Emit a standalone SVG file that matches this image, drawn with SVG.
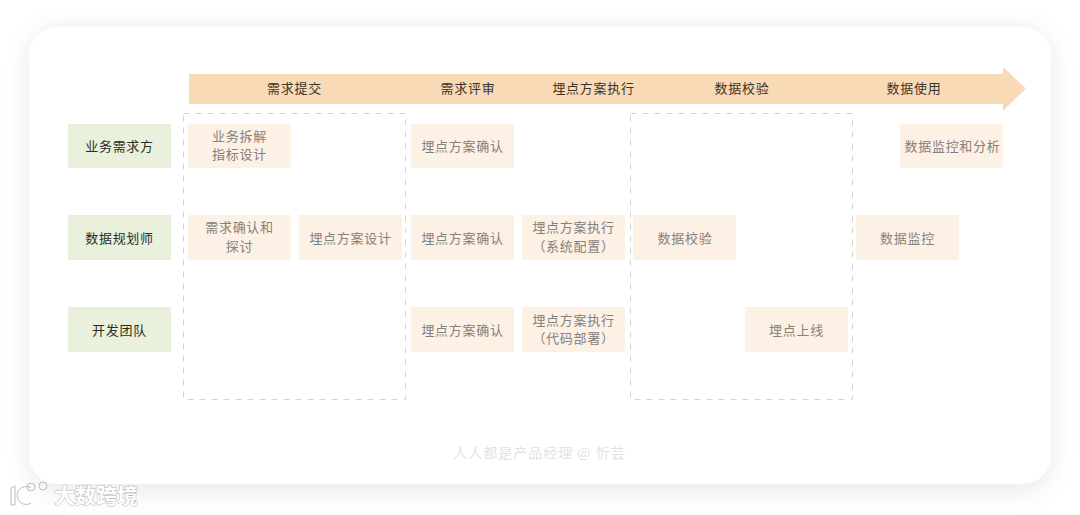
<svg xmlns="http://www.w3.org/2000/svg" width="1080" height="515" viewBox="0 0 1080 515">
<style>
text{font-family:"Noto Sans CJK SC","Noto Sans",sans-serif;text-anchor:middle;font-size:13px;letter-spacing:.7px}
.role rect{fill:#e9f1dc}.role text{fill:#2c2c24}
.stage{fill:#3d3429}
.task rect{fill:#fdf0e4}.task text{fill:#85817b}
.box{fill:none;stroke:#d4d4d6;stroke-width:1;stroke-dasharray:6 6}
.wm{font-size:21px;font-weight:700;fill:#fff;stroke:#b9b9b9;stroke-width:1;letter-spacing:0;paint-order:stroke}
.logo{fill:none;stroke:#bdbdbd;stroke-width:1}
</style>
<defs><filter id="sh" x="-5%" y="-10%" width="110%" height="120%"><feGaussianBlur stdDeviation="14"/></filter></defs>
<rect width="1080" height="515" fill="#fff"/>
<rect x="29" y="30" width="1022" height="460" rx="28" fill="#000" opacity=".09" filter="url(#sh)"/>
<rect id="card" x="29" y="27" width="1022" height="457" rx="28" fill="#fff"/>
<g id="timeline">
<path d="M189 74H1003V67L1026 88.500L1003 111V104H189Z" fill="#f9dab7"/>
<text class="stage" x="294.500" y="93">需求提交</text>
<text class="stage" x="468" y="93">需求评审</text>
<text class="stage" x="593.500" y="93">埋点方案执行</text>
<text class="stage" x="742" y="93">数据校验</text>
<text class="stage" x="914" y="93">数据使用</text>
</g>
<g id="connectors">
<rect class="box" x="183.500" y="113.500" width="222" height="286"/>
<rect class="box" x="630.500" y="113.500" width="222" height="286"/>
</g>
<g id="role-business" class="role"><rect x="68" y="124" width="103" height="44"/><text x="119.500" y="151">业务需求方</text></g>
<g id="role-planner" class="role"><rect x="68" y="215" width="103" height="45"/><text x="119.500" y="243">数据规划师</text></g>
<g id="role-dev" class="role"><rect x="68" y="307" width="103" height="45"/><text x="119.500" y="335">开发团队</text></g>
<g id="t1" class="task"><rect x="188" y="124" width="103" height="44"/><text x="239.500" y="141">业务拆解</text><text x="239.500" y="159">指标设计</text></g>
<g id="t2" class="task"><rect x="411" y="124" width="103" height="44"/><text x="462.500" y="151">埋点方案确认</text></g>
<g id="t3" class="task"><rect x="900" y="124" width="103" height="44"/><text x="952.500" y="151">数据监控和分析</text></g>
<g id="t4" class="task"><rect x="188" y="215" width="103" height="45"/><text x="239.500" y="232">需求确认和</text><text x="239.500" y="251">探讨</text></g>
<g id="t5" class="task"><rect x="299" y="215" width="103" height="45"/><text x="350.500" y="243">埋点方案设计</text></g>
<g id="t6" class="task"><rect x="411" y="215" width="103" height="45"/><text x="462.500" y="243">埋点方案确认</text></g>
<g id="t7" class="task"><rect x="522" y="215" width="103" height="45"/><text x="573.500" y="232">埋点方案执行</text><text x="573.500" y="251">（系统配置）</text></g>
<g id="t8" class="task"><rect x="633" y="215" width="103" height="45"/><text x="685" y="243">数据校验</text></g>
<g id="t9" class="task"><rect x="856" y="215" width="103" height="45"/><text x="907.500" y="243">数据监控</text></g>
<g id="t10" class="task"><rect x="411" y="307" width="103" height="45"/><text x="462.500" y="335">埋点方案确认</text></g>
<g id="t11" class="task"><rect x="522" y="307" width="103" height="45"/><text x="573.500" y="325">埋点方案执行</text><text x="573.500" y="343">（代码部署）</text></g>
<g id="t12" class="task"><rect x="745" y="307" width="103" height="45"/><text x="796.500" y="335">埋点上线</text></g>
<text x="539.500" y="458" style="font-size:14px;letter-spacing:1px;fill:#e3e3e3">人人都是产品经理 @ 忻芸</text>
<g id="watermark">
<path class="logo" d="M11 488L15 486V505H11ZM31 488A9 9 0 1 0 31 503" stroke-width="3"/>
<circle class="logo" cx="31" cy="487" r="4"/><circle class="logo" cx="43" cy="486" r="4"/>
<text class="wm" x="96" y="503">大数跨境</text>
</g>
</svg>
